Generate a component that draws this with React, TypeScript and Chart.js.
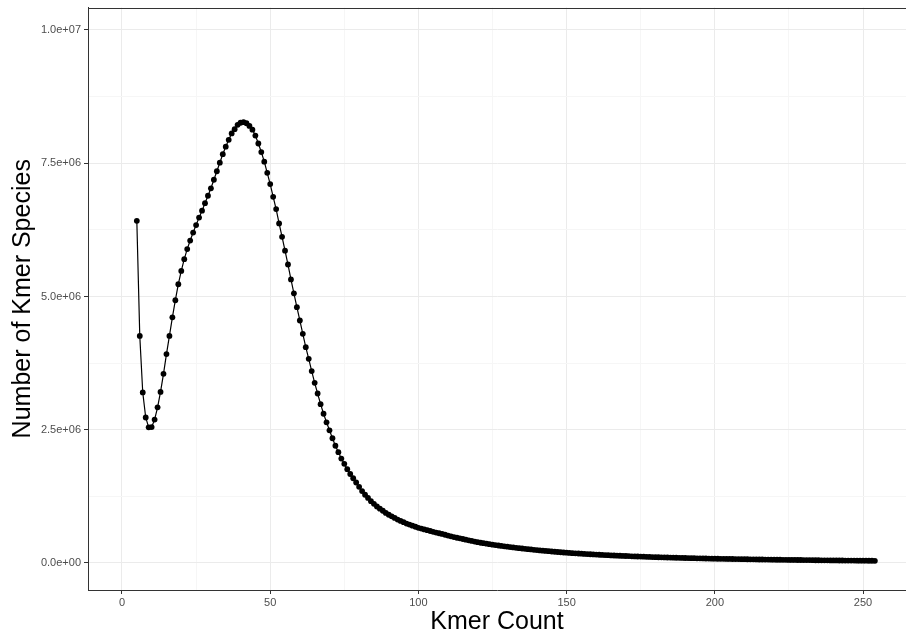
import React, { useEffect, useRef } from "react";
import { Chart, registerables } from "chart.js";

Chart.register(...registerables);

const KMER_COUNT = [
  5, 6, 7, 8, 9, 10, 11, 12, 13, 14,
  15, 16, 17, 18, 19, 20, 21, 22, 23, 24,
  25, 26, 27, 28, 29, 30, 31, 32, 33, 34,
  35, 36, 37, 38, 39, 40, 41, 42, 43, 44,
  45, 46, 47, 48, 49, 50, 51, 52, 53, 54,
  55, 56, 57, 58, 59, 60, 61, 62, 63, 64,
  65, 66, 67, 68, 69, 70, 71, 72, 73, 74,
  75, 76, 77, 78, 79, 80, 81, 82, 83, 84,
  85, 86, 87, 88, 89, 90, 91, 92, 93, 94,
  95, 96, 97, 98, 99, 100, 101, 102, 103, 104,
  105, 106, 107, 108, 109, 110, 111, 112, 113, 114,
  115, 116, 117, 118, 119, 120, 121, 122, 123, 124,
  125, 126, 127, 128, 129, 130, 131, 132, 133, 134,
  135, 136, 137, 138, 139, 140, 141, 142, 143, 144,
  145, 146, 147, 148, 149, 150, 151, 152, 153, 154,
  155, 156, 157, 158, 159, 160, 161, 162, 163, 164,
  165, 166, 167, 168, 169, 170, 171, 172, 173, 174,
  175, 176, 177, 178, 179, 180, 181, 182, 183, 184,
  185, 186, 187, 188, 189, 190, 191, 192, 193, 194,
  195, 196, 197, 198, 199, 200, 201, 202, 203, 204,
  205, 206, 207, 208, 209, 210, 211, 212, 213, 214,
  215, 216, 217, 218, 219, 220, 221, 222, 223, 224,
  225, 226, 227, 228, 229, 230, 231, 232, 233, 234,
  235, 236, 237, 238, 239, 240, 241, 242, 243, 244,
  245, 246, 247, 248, 249, 250, 251, 252, 253, 254,
];

const KMER_SPECIES = [
  6420000, 4260000, 3200000, 2730000, 2545000, 2550000, 2690000, 2920000, 3210000, 3550000,
  3920000, 4260000, 4610000, 4930000, 5230000, 5480000, 5700000, 5890000, 6050000, 6200000,
  6340000, 6480000, 6610000, 6750000, 6890000, 7030000, 7190000, 7350000, 7510000, 7670000,
  7810000, 7940000, 8060000, 8140000, 8220000, 8260000, 8270000, 8250000, 8200000, 8130000,
  8020000, 7870000, 7710000, 7530000, 7320000, 7110000, 6870000, 6640000, 6370000, 6120000,
  5860000, 5600000, 5320000, 5060000, 4800000, 4550000, 4300000, 4050000, 3830000, 3600000,
  3380000, 3180000, 2980000, 2800000, 2640000, 2490000, 2340000, 2200000, 2080000, 1960000,
  1860000, 1760000, 1670000, 1590000, 1510000, 1430000, 1350000, 1280000, 1220000, 1160000,
  1110000, 1060000, 1020000, 980000, 940000, 905000, 875000, 845000, 815000, 790000,
  765000, 740000, 720000, 700000, 680000, 660000, 645000, 630000, 615000, 600000,
  585000, 570000, 558000, 545000, 530000, 515000, 500000, 487000, 474000, 462000,
  450000, 438000, 426000, 414000, 402000, 391000, 380000, 371000, 362000, 353000,
  344000, 336000, 328000, 320000, 313000, 306000, 299000, 292000, 285000, 278000,
  272000, 266000, 260000, 254000, 248000, 242000, 236000, 231000, 226000, 221000,
  216000, 211000, 206000, 202000, 197000, 193000, 189000, 185000, 181000, 178000,
  174000, 171000, 167000, 164000, 161000, 158000, 155000, 152000, 149000, 146000,
  143000, 141000, 138000, 136000, 133000, 131000, 129000, 126000, 124000, 122000,
  120000, 118000, 116000, 114000, 112000, 110000, 108000, 107000, 105000, 103000,
  102000, 100000, 98000, 97000, 95000, 94000, 92000, 91000, 90000, 88000,
  87000, 86000, 84000, 83000, 82000, 81000, 80000, 79000, 78000, 77000,
  76000, 75000, 74000, 73000, 72000, 71000, 70000, 69000, 68000, 67000,
  66000, 66000, 65000, 64000, 63000, 62000, 61000, 61000, 60000, 59000,
  58000, 58000, 57000, 56000, 56000, 55000, 54000, 54000, 53000, 52000,
  52000, 51000, 50000, 50000, 49000, 49000, 48000, 47000, 47000, 46000,
  46000, 45000, 45000, 44000, 44000, 43000, 43000, 42000, 42000, 41000,
];

const X_GRID = [0, 25, 50, 75, 100, 125, 150, 175, 200, 225, 250];
const X_MAJOR = [0, 50, 100, 150, 200, 250];
const Y_GRID = [0, 1250000, 2500000, 3750000, 5000000, 6250000, 7500000, 8750000, 10000000];
const Y_MAJOR = [0, 2500000, 5000000, 7500000, 10000000];
const Y_MAJOR_LABELS = ["0.0e+00", "2.5e+06", "5.0e+06", "7.5e+06", "1.0e+07"];

const X_TITLE = "Kmer Count";
const Y_TITLE = "Number of Kmer Species";

const FONT = '"Liberation Sans", Arial, Helvetica, sans-serif';

const topBorder = {
  id: "topBorder",
  afterDraw(chart: any) {
    const { ctx, chartArea } = chart;
    ctx.save();
    ctx.strokeStyle = "#333333";
    ctx.lineWidth = 1;
    ctx.beginPath();
    ctx.moveTo(chartArea.left, Math.round(chartArea.top) + 0.5);
    ctx.lineTo(chartArea.right, Math.round(chartArea.top) + 0.5);
    ctx.stroke();
    ctx.restore();
  },
};

export default function App() {
  const ref = useRef<HTMLCanvasElement | null>(null);

  useEffect(() => {
    if (!ref.current) return;
    const chart = new Chart(ref.current, {
      type: "line",
      data: {
        datasets: [
          {
            data: KMER_COUNT.map((x, i) => ({ x, y: KMER_SPECIES[i] })),
            borderColor: "#000000",
            borderWidth: 1.2,
            backgroundColor: "#000000",
            pointRadius: 2.9,
            pointBorderWidth: 0,
            pointBackgroundColor: "#000000",
            tension: 0,
            fill: false,
          },
        ],
      },
      options: {
        animation: false,
        responsive: false,
        maintainAspectRatio: false,
        devicePixelRatio: 1,
        layout: { autoPadding: false, padding: { top: 7.5, left: 0, right: 0, bottom: 0 } },
        plugins: {
          legend: { display: false },
          tooltip: { enabled: false },
        },
        scales: {
          x: {
            type: "linear",
            min: -11.47,
            max: 264.5,
            afterFit: (scale: any) => {
              scale.height = 52;
              scale.paddingLeft = 0;
              scale.paddingRight = 0;
            },
            afterBuildTicks: (scale: any) => {
              scale.ticks = X_GRID.map((v) => ({ value: v }));
            },
            ticks: {
              autoSkip: false,
              maxRotation: 0,
              padding: 2,
              color: "#4d4d4d",
              font: { family: FONT, size: 11 },
              callback: (v: any) => (X_MAJOR.includes(Number(v)) ? String(v) : ""),
            },
            grid: {
              color: (c: any) => (X_MAJOR.includes(c.tick?.value) ? "#ebebeb" : "#f6f6f6"),
              tickColor: (c: any) => (X_MAJOR.includes(c.tick?.value) ? "#333333" : "rgba(0,0,0,0)"),
              tickLength: 4,
              lineWidth: 1,
            },
            border: { color: "#333333", width: 1 },
            title: {
              display: true,
              text: X_TITLE,
              color: "#000000",
              font: { family: FONT, size: 25, lineHeight: 1.2 },
              padding: { top: 0, bottom: 5 },
            },
          },
          y: {
            type: "linear",
            min: -506600,
            max: 10422000,
            afterFit: (scale: any) => {
              scale.width = 88;
              scale.paddingTop = 0;
              scale.paddingBottom = 0;
            },
            afterBuildTicks: (scale: any) => {
              scale.ticks = Y_GRID.map((v) => ({ value: v }));
            },
            ticks: {
              autoSkip: false,
              padding: 3,
              color: "#4d4d4d",
              font: { family: FONT, size: 11 },
              callback: (v: any) => {
                const i = Y_MAJOR.indexOf(Number(v));
                return i >= 0 ? Y_MAJOR_LABELS[i] : "";
              },
            },
            grid: {
              color: (c: any) => (Y_MAJOR.includes(c.tick?.value) ? "#ebebeb" : "#f6f6f6"),
              tickColor: (c: any) => (Y_MAJOR.includes(c.tick?.value) ? "#333333" : "rgba(0,0,0,0)"),
              tickLength: 4,
              lineWidth: 1,
            },
            border: { color: "#333333", width: 1 },
            title: {
              display: true,
              text: Y_TITLE,
              color: "#000000",
              font: { family: FONT, size: 25, lineHeight: 1.2 },
              padding: { top: 8, bottom: 0 },
            },
          },
        },
      },
      plugins: [topBorder],
    });
    return () => chart.destroy();
  }, []);

  return (
    <div style={{ position: "absolute", left: 0, top: 0, width: 906, height: 642, background: "#ffffff" }}>
      <canvas ref={ref} width={906} height={642} style={{ display: "block", width: 906, height: 642 }} />
    </div>
  );
}
